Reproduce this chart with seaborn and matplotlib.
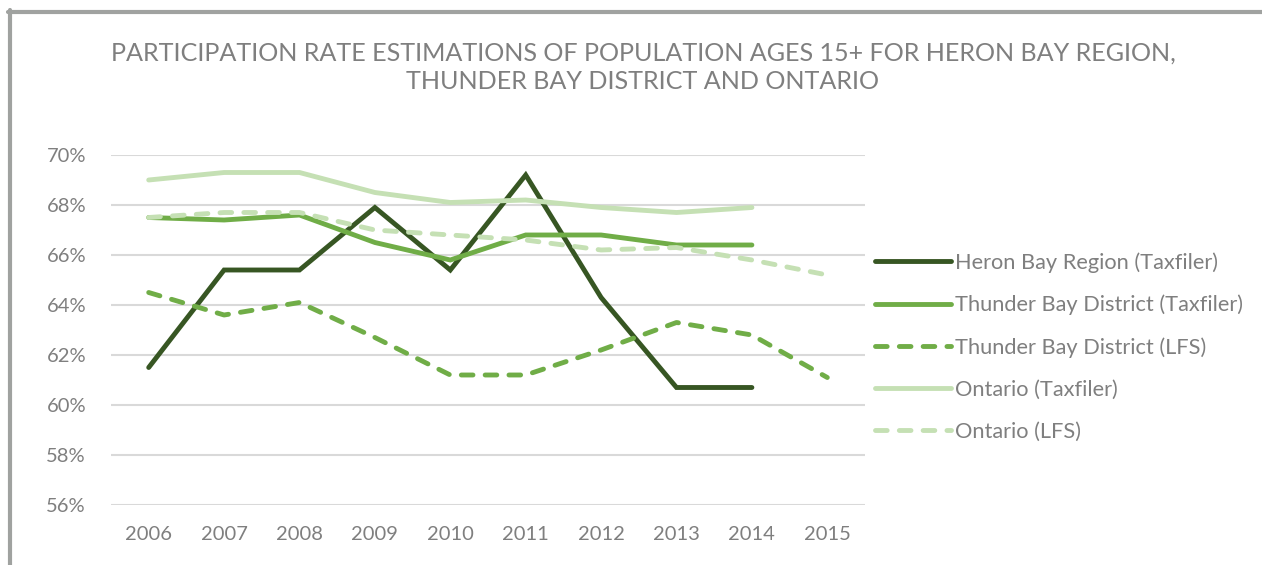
import matplotlib
matplotlib.use("Agg")
import matplotlib.pyplot as plt
import seaborn as sns
import pandas as pd
from matplotlib.lines import Line2D
from matplotlib.ticker import FuncFormatter

years = [2006, 2007, 2008, 2009, 2010, 2011, 2012, 2013, 2014, 2015]
heron_tax = [61.5, 65.4, 65.4, 67.9, 65.4, 69.2, 64.3, 60.7, 60.7, None]
tbay_tax = [67.5, 67.4, 67.6, 66.5, 65.8, 66.8, 66.8, 66.4, 66.4, None]
tbay_lfs = [64.5, 63.6, 64.1, 62.7, 61.2, 61.2, 62.2, 63.3, 62.8, 61.1]
ont_tax = [69.0, 69.3, 69.3, 68.5, 68.1, 68.2, 67.9, 67.7, 67.9, None]
ont_lfs = [67.5, 67.7, 67.7, 67.0, 66.8, 66.6, 66.2, 66.3, 65.8, 65.2]

series_names = ["Heron Bay Region (Taxfiler)", "Thunder Bay District (Taxfiler)",
                "Thunder Bay District (LFS)", "Ontario (Taxfiler)", "Ontario (LFS)"]
series_vals = [heron_tax, tbay_tax, tbay_lfs, ont_tax, ont_lfs]
colors = ["#375623", "#70AD47", "#70AD47", "#C5E0B4", "#C5E0B4"]
dashed = [False, False, True, False, True]

title = "PARTICIPATION RATE ESTIMATIONS OF POPULATION AGES 15+ FOR HERON BAY REGION,\nTHUNDER BAY DISTRICT AND ONTARIO"
yticks = [56, 58, 60, 62, 64, 66, 68, 70]

sns.set_theme(style="white")
plt.rcParams['font.family'] = ['Lato', 'DejaVu Sans']

fig = plt.figure(figsize=(12.62, 5.65), dpi=100)
ax = fig.add_axes([111 / 1262, 1 - 505 / 565, 754 / 1262, 350 / 565])

lw = 3.5
for name, vals, c, d in zip(series_names, series_vals, colors, dashed):
    df = pd.DataFrame({"year": years, "value": vals}).dropna()
    sns.lineplot(data=df, x="year", y="value", ax=ax, color=c, linewidth=lw,
                 label=name, legend=False)
    line = ax.lines[-1]
    if d:
        line.set_dashes((2.4, 2.5))
        line.set_dash_capstyle("round")
    else:
        line.set_solid_capstyle("round")
    line.set_solid_joinstyle("miter")

ax.set_xlim(2005.5, 2015.5)
ax.set_ylim(56, 70)
ax.set_yticks(yticks)
ax.yaxis.set_major_formatter(FuncFormatter(lambda v, p: f"{v:.0f}%"))
ax.set_xticks(years)
ax.set_xticklabels([str(y) for y in years])
ax.grid(axis="y", color="#D9D9D9", linewidth=1.5)
ax.set_axisbelow(True)
for s in ax.spines.values():
    s.set_visible(False)
ax.tick_params(axis="both", length=0, labelsize=14.5, labelcolor="#7F7F7F")
ax.tick_params(axis="y", pad=18)
ax.tick_params(axis="x", pad=15)
ax.set_xlabel("")
ax.set_ylabel("")

handles = []
for name, c, d in zip(series_names, colors, dashed):
    h = Line2D([0], [0], color=c, linewidth=lw)
    if d:
        h.set_dashes((2.4, 2.5))
        h.set_dash_capstyle("round")
    else:
        h.set_solid_capstyle("round")
    handles.append(h)
leg = fig.legend(handles, series_names, loc="center left",
                 bbox_to_anchor=(866 / 1262, 1 - 347 / 565), frameon=False,
                 fontsize=15.7, labelcolor="#7F7F7F", handlelength=3.5,
                 handletextpad=0.2, labelspacing=1.0, borderaxespad=0)

fig.text(643 / 1262, 1 - 67 / 565, title, ha="center", va="center", fontsize=18.1,
         color="#7F7F7F", linespacing=1.3)

# chart frame (top and left edges)
fig.add_artist(Line2D([8 / 1262, 1.0], [1 - 12 / 565, 1 - 12 / 565],
                      transform=fig.transFigure, color="#A0A2A0", linewidth=3))
fig.add_artist(Line2D([10 / 1262, 10 / 1262], [1 - 10 / 565, 0],
                      transform=fig.transFigure, color="#A0A2A0", linewidth=3))

fig.savefig("out.png", dpi=100)
